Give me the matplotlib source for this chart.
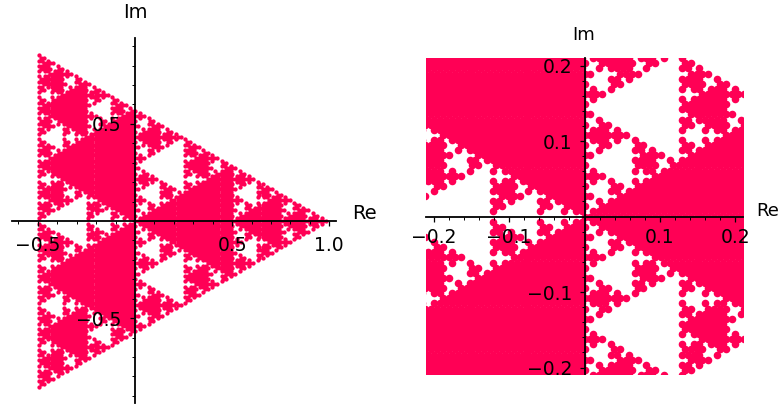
import numpy as np
import matplotlib
matplotlib.use("Agg")
import matplotlib.pyplot as plt
from matplotlib.ticker import MultipleLocator, FixedFormatter, FixedLocator

W, H = 781, 405
# digit set and expansion base of the plotted set: sums of d_k / base^k
digits = np.array([0, 1, np.exp(2j*np.pi/3), np.exp(-2j*np.pi/3)])
base = 2.0
depth_left = 6
depth_right = 7
colour = "#ff0055"

left_xticks = [-0.5, 0.5, 1.0]
left_xlabels = ["\u22120.5", "0.5", "1.0"]
left_yticks = [-0.5, 0.5]
left_ylabels = ["\u22120.5", "0.5"]
right_xticks = [-0.2, -0.1, 0.1, 0.2]
right_xlabels = ["\u22120.2", "\u22120.1", "0.1", "0.2"]
right_yticks = [-0.2, -0.1, 0.1, 0.2]
right_ylabels = ["\u22120.2", "\u22120.1", "0.1", "0.2"]


def point_set(depth):
    pts = np.array([0j])
    for k in range(1, depth + 1):
        pts = (pts[:, None] + digits[None, :] / base**k).ravel()
    return pts


def panel(fig, box, xlim, ylim, pts, size, xt, xl, yt, yl, minor, xpad, ypad, relabel, imlabel, labelsize):
    x0, x1, y0, y1 = box
    ax = fig.add_axes([x0/W, 1-y1/H, (x1-x0)/W, (y1-y0)/H])
    ax.set_xlim(*xlim); ax.set_ylim(*ylim)
    ax.scatter(pts.real, pts.imag, s=size, c=colour, linewidths=0, zorder=1)
    for side in ("top", "right"):
        ax.spines[side].set_visible(False)
    for side in ("left", "bottom"):
        ax.spines[side].set_position(("data", 0))
        ax.spines[side].set_linewidth(1.3)
        ax.spines[side].set_zorder(3)
    ax.xaxis.set_major_locator(FixedLocator(xt)); ax.xaxis.set_major_formatter(FixedFormatter(xl))
    ax.yaxis.set_major_locator(FixedLocator(yt)); ax.yaxis.set_major_formatter(FixedFormatter(yl))
    ax.xaxis.set_minor_locator(MultipleLocator(minor)); ax.yaxis.set_minor_locator(MultipleLocator(minor))
    ax.tick_params(which="major", length=3.5, width=0.9, labelsize=13.5)
    ax.tick_params(which="minor", length=2, width=0.7)
    ax.tick_params(axis="x", which="major", pad=xpad)
    ax.tick_params(axis="y", which="major", pad=ypad)
    ax.patch.set_alpha(0)
    ax.text(relabel[0]/W, 1-relabel[1]/H, "Re", transform=fig.transFigure, fontsize=labelsize, ha="center", va="center")
    ax.text(imlabel[0]/W, 1-imlabel[1]/H, "Im", transform=fig.transFigure, fontsize=labelsize, ha="center", va="center")
    return ax


fig = plt.figure(figsize=(W/100, H/100), dpi=100)
panel(fig, (12, 336, 38, 403), ((12-135)/194.3, (336-135)/194.3), ((221-403)/194.3, (221-38)/194.3),
      point_set(depth_left), 9.5, left_xticks, left_xlabels, left_yticks, left_ylabels, 0.1, 7, 6, (364.5, 214), (135, 12), 14)
panel(fig, (426, 743, 58, 374), (-0.21, 0.21), (-0.2085, 0.21),
      point_set(depth_right), 30, right_xticks, right_xlabels, right_yticks, right_ylabels, 0.02, 5, 5, (768, 211), (584, 35), 13)
fig.savefig("out.png", dpi=100)
